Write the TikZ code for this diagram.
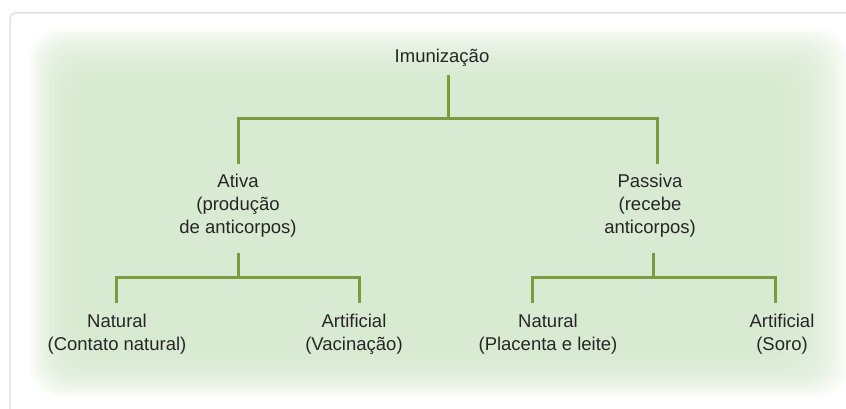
\documentclass[tikz,border=0pt]{standalone}
\usepackage{fontspec}
\setmainfont{Liberation Sans}
\usepackage{tikz}
\usepackage{xcolor}
\definecolor{stemgreen}{RGB}{122,155,63}
\definecolor{leafbg}{RGB}{212,231,204}
\definecolor{framegray}{RGB}{226,226,226}

\begin{document}
\begin{tikzpicture}[x=1pt,y=-1pt,
    branch/.style={draw=stemgreen,line width=3pt},
    entry/.style={align=center,inner sep=0,text=black!85,font=\fontsize{18.5}{23}\selectfont}]
    \useasboundingbox (0,0) rectangle (846,409);

    \draw[framegray,line width=1.5pt,rounded corners=5] (10,430) -- (10,13) -- (870,13);
    \foreach \i in {0,...,21}
      \fill[leafbg,fill opacity=0.09,rounded corners=30] (30+2*\i,28+2.3*\i) rectangle (848-2.8*\i,397-2*\i);

    \node[entry] (imun) at (442,58) {Imunização};
    \node[entry] (ativa) at (238,206) {Ativa\\(produção\\de anticorpos)};
    \node[entry] (passiva) at (650,206) {Passiva\\(recebe\\anticorpos)};
    \node[entry] (nat1) at (117,334) {Natural\\(Contato natural)};
    \node[entry] (art1) at (354,334) {Artificial\\(Vacinação)};
    \node[entry] (nat2) at (548,334) {Natural\\(Placenta e leite)};
    \node[entry] (art2) at (782,334) {Artificial\\(Soro)};

    \coordinate (imun-foot) at (448,75);
    \coordinate (ativa-head) at (238,164);
    \coordinate (passiva-head) at (657,164);
    \coordinate (ativa-foot) at (238,253);
    \coordinate (passiva-foot) at (653,253);
    \coordinate (nat1-head) at (116,303);
    \coordinate (art1-head) at (359,303);
    \coordinate (nat2-head) at (532,303);
    \coordinate (art2-head) at (775,303);

    \draw[branch] (imun-foot) -- ++(0,44) coordinate (fork1);
    \draw[branch] (ativa-head) |- (fork1) -| (passiva-head);

    \draw[branch] (ativa-foot) -- ++(0,24) coordinate (fork2);
    \draw[branch] (nat1-head) |- (fork2) -| (art1-head);

    \draw[branch] (passiva-foot) -- ++(0,24) coordinate (fork3);
    \draw[branch] (nat2-head) |- (fork3) -| (art2-head);

\end{tikzpicture}
\end{document}
